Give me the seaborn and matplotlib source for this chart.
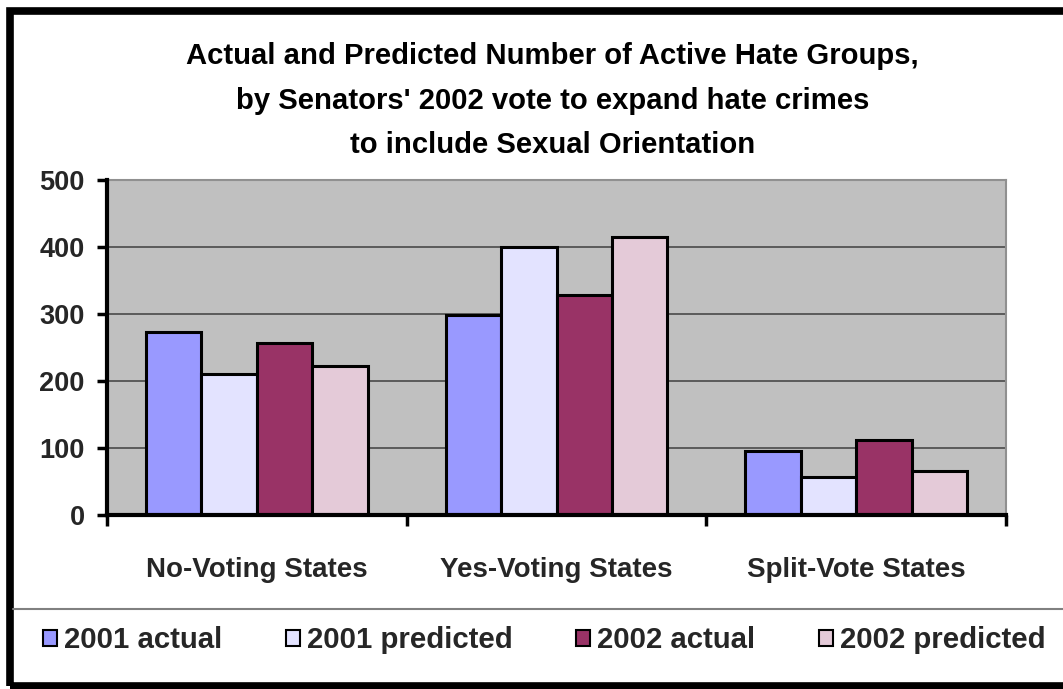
import matplotlib
matplotlib.use("Agg")
import matplotlib.pyplot as plt
from matplotlib.patches import Rectangle, Patch
from matplotlib.lines import Line2D
import seaborn as sns
import pandas as pd

# Data
regions = ["No-Voting States", "Yes-Voting States", "Split-Vote States"]
series = ["2001 actual", "2001 predicted", "2002 actual", "2002 predicted"]
actual_2001 = [273, 298, 96]
predicted_2001 = [210, 400, 57]
actual_2002 = [257, 328, 112]
predicted_2002 = [222, 415, 65]
y_ticks = [0, 100, 200, 300, 400, 500]
title_lines = [
    "Actual and Predicted Number of Active Hate Groups,",
    "by Senators' 2002 vote to expand hate crimes",
    "to include Sexual Orientation",
]

colors = ["#9999FF", "#E3E3FF", "#993366", "#E4CAD8"]

rows = []
for name, vals in zip(series, [actual_2001, predicted_2001, actual_2002, predicted_2002]):
    for r, v in zip(regions, vals):
        rows.append({"region": r, "series": name, "count": v})
df = pd.DataFrame(rows)

sns.set_theme(style="white")
plt.rcParams["font.family"] = ["Liberation Sans", "DejaVu Sans"]
plt.rcParams["font.weight"] = "bold"

fig = plt.figure(figsize=(10.63, 6.89), dpi=100)
fig.patch.set_facecolor("white")
ax = fig.add_axes([0.1007, 0.2525, 0.8457, 0.4863])
ax.set_facecolor("#C0C0C0")

sns.barplot(
    data=df, x="region", y="count", hue="series", order=regions, hue_order=series,
    palette=colors, saturation=1, width=0.74, gap=0, edgecolor="black",
    linewidth=2.2, legend=False, ax=ax, zorder=3,
)

ax.set_xlim(-0.5, 2.5)
ax.set_ylim(0, 500)
ax.set_yticks(y_ticks)
ax.set_yticklabels([str(t) for t in y_ticks], fontsize=19.5, fontweight="bold")
for t in y_ticks[1:-1]:
    ax.axhline(t, color="#404040", linewidth=1.1, zorder=1)

# Group separators on the category axis, labels centred between them
ax.set_xticks([-0.5, 0.5, 1.5, 2.5])
ax.set_xticklabels([])
ax.set_xticks([0, 1, 2], minor=True)
ax.set_xticklabels(regions, minor=True, fontsize=20, fontweight="bold")
ax.tick_params(axis="x", which="major", direction="out", length=8, width=2.5,
               color="black", bottom=True)
ax.tick_params(axis="x", which="minor", length=0, pad=30, bottom=True)
ax.tick_params(axis="y", direction="out", length=7, width=2.5, color="black",
               left=True, pad=9)
ax.set_xlabel("")
ax.set_ylabel("")

for side in ["left", "bottom"]:
    ax.spines[side].set_color("black")
    ax.spines[side].set_linewidth(3)
    ax.spines[side].set_zorder(5)
for side in ["top", "right"]:
    ax.spines[side].set_color("#909090")
    ax.spines[side].set_linewidth(1.5)

# Title
for y, line in zip([0.918, 0.854, 0.790], title_lines):
    fig.text(0.520, y, line, ha="center", va="center", fontsize=21.1,
             fontweight="bold", color="black")

# Legend
handles = [Patch(facecolor=c, edgecolor="black", linewidth=1.5) for c in colors]
fig.legend(handles, series, loc="center", bbox_to_anchor=(0.512, 0.071), ncol=4,
           frameon=False, handlelength=0.47, handleheight=0.47,
           handletextpad=0.25, columnspacing=2.15,
           prop={"weight": "bold", "size": 21.2})

# Outer frame and legend separator
fig.add_artist(Line2D([0.012, 1.0], [1 - 609 / 689, 1 - 609 / 689],
                      transform=fig.transFigure, color="#808080", linewidth=1.5))
fig.add_artist(Rectangle((10 / 1063, 3.5 / 689), 1.1, 1 - 14 / 689,
                         transform=fig.transFigure, fill=False,
                         edgecolor="black", linewidth=5.5, clip_on=False))

fig.savefig("out.png", dpi=100)
